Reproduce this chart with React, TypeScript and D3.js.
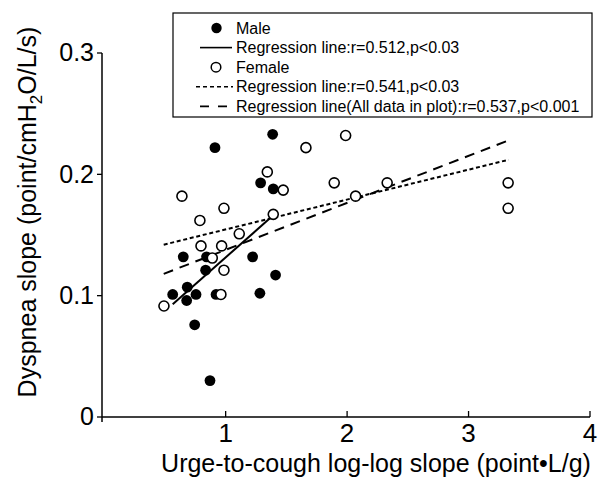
import React, { useRef, useEffect } from 'react';
import * as d3 from 'd3';

// male (filled dots)
const maleX = [1.387, 0.912, 1.288, 1.392, 0.651, 0.843, 1.222, 0.835, 1.411, 0.564, 0.684, 0.756, 0.679, 1.282, 0.921, 0.745, 0.871];
const maleY = [0.233, 0.222, 0.193, 0.188, 0.132, 0.132, 0.132, 0.121, 0.117, 0.101, 0.107, 0.101, 0.096, 0.102, 0.101, 0.076, 0.030];

// female (open dots)
const femaleX = [1.661, 1.988, 1.343, 1.474, 1.894, 2.07, 2.33, 3.326, 3.326, 0.64, 0.986, 0.788, 1.392, 1.112, 0.797, 0.967, 0.89, 0.986, 0.961, 0.492];
const femaleY = [0.222, 0.232, 0.202, 0.187, 0.193, 0.182, 0.193, 0.193, 0.172, 0.182, 0.172, 0.162, 0.167, 0.151, 0.141, 0.141, 0.131, 0.121, 0.101, 0.0915];

// regression line ends
const maleFitX = [0.564, 1.39];
const maleFitY = [0.093, 0.166];
const femaleFitX = [0.49, 3.33];
const femaleFitY = [0.142, 0.212];
const allFitX = [0.49, 3.33];
const allFitY = [0.118, 0.228];

const xTicks = [1, 2, 3, 4];
const yTicks = [0, 0.1, 0.2, 0.3];
const yTickLabels = ['0', '0.1', '0.2', '0.3'];

const legendLabels = [
  'Male',
  'Regression line:r=0.512,p<0.03',
  'Female',
  'Regression line:r=0.541,p<0.03',
  'Regression line(All data in plot):r=0.537,p<0.001',
];

const FONT = "'Liberation Sans', Arial, sans-serif";

const App = () => {
  const ref = useRef<SVGSVGElement>(null);

  useEffect(() => {
    const svg = d3.select(ref.current);
    svg.selectAll('*').remove();

    const x = d3.scaleLinear().domain([0, 4]).range([104.2, 590]);
    const y = d3.scaleLinear().domain([0, 0.3]).range([417, 53]);

    // axes
    svg.append('line')
      .attr('x1', 102).attr('x2', 102)
      .attr('y1', y(0) + 5).attr('y2', y(0.3))
      .attr('stroke', '#000').attr('stroke-width', 1.5);
    svg.append('line')
      .attr('x1', 102).attr('x2', x(4))
      .attr('y1', y(0)).attr('y2', y(0))
      .attr('stroke', '#000').attr('stroke-width', 1.5);

    yTicks.forEach((t, i) => {
      svg.append('line')
        .attr('x1', 97).attr('x2', 102)
        .attr('y1', y(t)).attr('y2', y(t))
        .attr('stroke', '#000').attr('stroke-width', 1.3);
      svg.append('text')
        .attr('x', 94).attr('y', y(t)).attr('dy', '0.33em')
        .attr('text-anchor', 'end')
        .attr('font-family', FONT).attr('font-size', 25)
        .text(yTickLabels[i]);
    });

    xTicks.forEach(t => {
      svg.append('line')
        .attr('x1', x(t)).attr('x2', x(t))
        .attr('y1', y(0) - 6).attr('y2', y(0))
        .attr('stroke', '#000').attr('stroke-width', 1.3);
      svg.append('text')
        .attr('x', x(t)).attr('y', 442)
        .attr('text-anchor', 'middle')
        .attr('font-family', FONT).attr('font-size', 26)
        .text(t);
    });

    // axis titles
    svg.append('text')
      .attr('x', 376).attr('y', 472)
      .attr('text-anchor', 'middle')
      .attr('font-family', FONT).attr('font-size', 25)
      .text('Urge-to-cough log-log slope (point\u2022L/g)');

    const yt = svg.append('text')
      .attr('transform', 'translate(36,212) rotate(-90)')
      .attr('text-anchor', 'middle')
      .attr('font-family', FONT).attr('font-size', 25);
    yt.append('tspan').text('Dyspnea slope (point/cmH');
    yt.append('tspan').attr('dy', 6).attr('font-size', 17).text('2');
    yt.append('tspan').attr('dy', -6).text('O/L/s)');

    // regression lines
    const line = d3.line<[number, number]>().x(d => x(d[0])).y(d => y(d[1]));
    const fits = [
      { xs: allFitX, ys: allFitY, dash: '10,7' },
      { xs: femaleFitX, ys: femaleFitY, dash: '4,2.7' },
      { xs: maleFitX, ys: maleFitY, dash: null },
    ];
    fits.forEach(f => {
      svg.append('path')
        .attr('d', line(f.xs.map((v, i) => [v, f.ys[i]] as [number, number])))
        .attr('fill', 'none').attr('stroke', '#000').attr('stroke-width', 2)
        .attr('stroke-dasharray', f.dash);
    });

    // points
    svg.append('g').selectAll('circle')
      .data(maleX.map((v, i) => [v, maleY[i]]))
      .join('circle')
      .attr('cx', d => x(d[0])).attr('cy', d => y(d[1])).attr('r', 5.4)
      .attr('fill', '#000');

    svg.append('g').selectAll('circle')
      .data(femaleX.map((v, i) => [v, femaleY[i]]))
      .join('circle')
      .attr('cx', d => x(d[0])).attr('cy', d => y(d[1])).attr('r', 5)
      .attr('fill', '#fff').attr('stroke', '#000').attr('stroke-width', 1.6);

    // legend
    const lg = svg.append('g');
    lg.append('rect')
      .attr('x', 173).attr('y', 13).attr('width', 419).attr('height', 104)
      .attr('fill', '#fff').attr('stroke', '#000').attr('stroke-width', 1.2);
    const rowY = (i: number) => 28 + i * 19.6;
    legendLabels.forEach((label, i) => {
      lg.append('text')
        .attr('x', 236).attr('y', rowY(i)).attr('dy', '0.35em')
        .attr('font-family', FONT).attr('font-size', 16)
        .text(label);
    });
    lg.append('circle').attr('cx', 216.5).attr('cy', rowY(0)).attr('r', 5.2).attr('fill', '#000');
    lg.append('line').attr('x1', 200).attr('x2', 232).attr('y1', rowY(1)).attr('y2', rowY(1))
      .attr('stroke', '#000').attr('stroke-width', 1.6);
    lg.append('circle').attr('cx', 216).attr('cy', rowY(2)).attr('r', 4.8)
      .attr('fill', '#fff').attr('stroke', '#000').attr('stroke-width', 1.5);
    lg.append('line').attr('x1', 196).attr('x2', 233).attr('y1', rowY(3)).attr('y2', rowY(3))
      .attr('stroke', '#000').attr('stroke-width', 1.6).attr('stroke-dasharray', '4,3');
    lg.append('line').attr('x1', 200).attr('x2', 228).attr('y1', rowY(4)).attr('y2', rowY(4))
      .attr('stroke', '#000').attr('stroke-width', 1.6).attr('stroke-dasharray', '9,9');
  }, []);

  return (
    <svg ref={ref} width={599} height={485}
      style={{ position: 'absolute', left: 0, top: 0, background: '#fff' }} />
  );
};

export default App;
